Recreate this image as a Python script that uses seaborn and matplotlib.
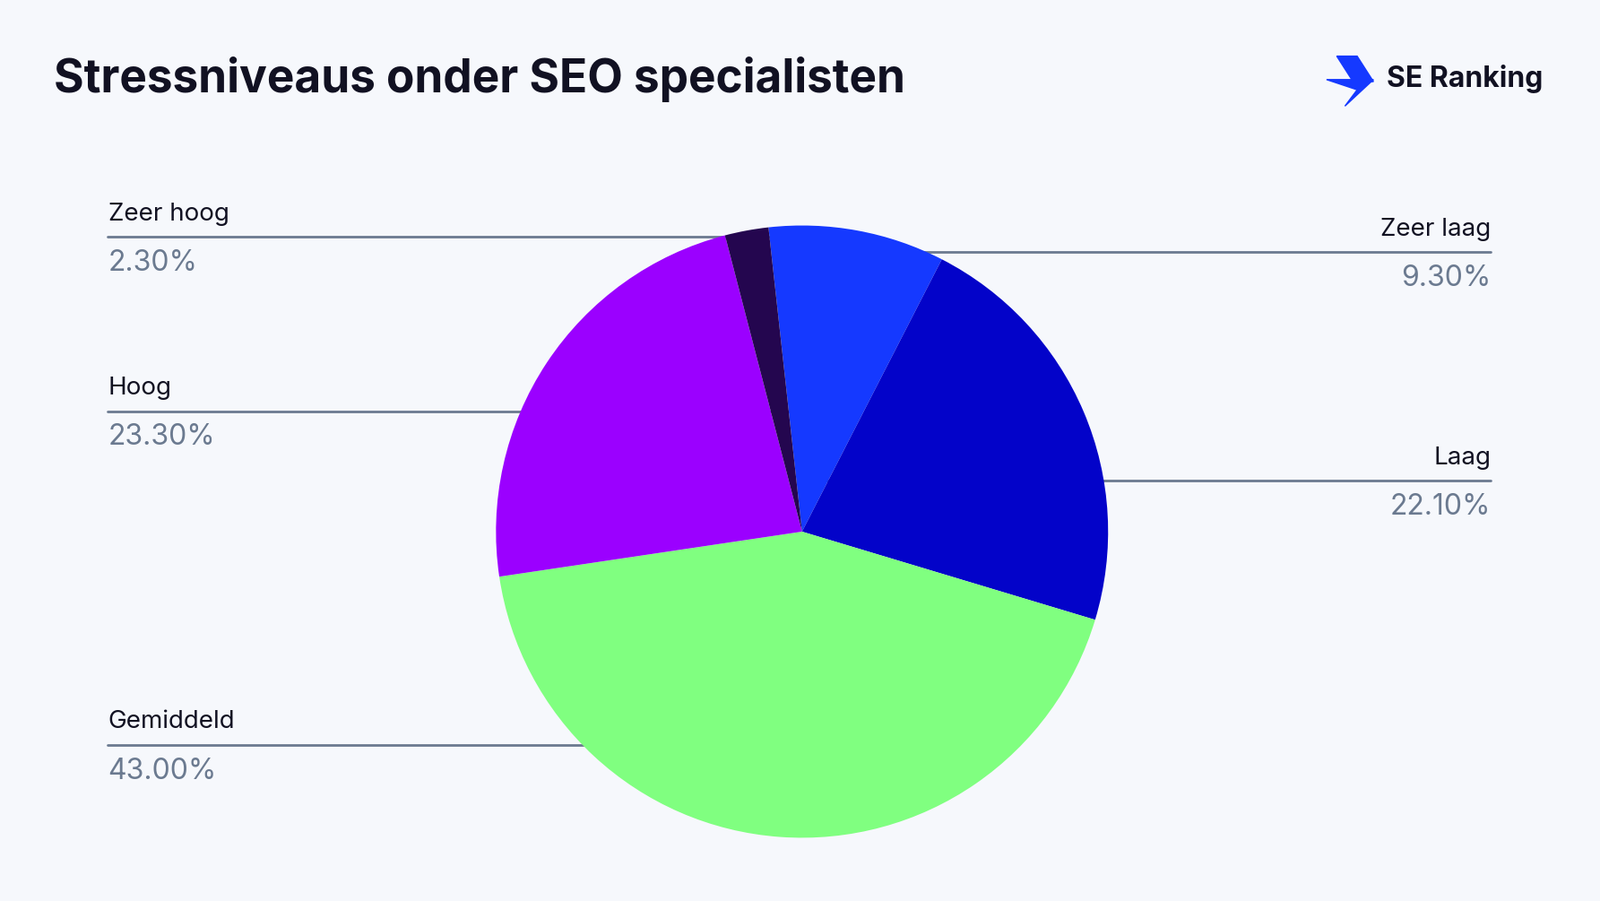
import matplotlib
matplotlib.use("Agg")
import matplotlib.pyplot as plt
import seaborn as sns

# data
categories = ["Zeer laag", "Laag", "Gemiddeld", "Hoog", "Zeer hoog"]
values = [9.3, 22.1, 43.0, 23.3, 2.3]
colors = ["#1539FF", "#0303C9", "#80FF80", "#9B00FF", "#24064F"]

sns.set_theme(style="white", font="Inter")
BG = "#F6F8FC"
W, H = 1568, 883  # reference layout units

fig = plt.figure(figsize=(17.85, 10.05), dpi=100, facecolor=BG)

bg = fig.add_axes([0, 0, 1, 1], zorder=0)
bg.set_xlim(0, W)
bg.set_ylim(H, 0)
bg.axis("off")
bg.set_facecolor(BG)

pie_ax = fig.add_axes([486 / W, 1 - 821 / H, 600 / W, 600 / H], zorder=1)
pie_ax.pie(values, colors=colors, startangle=96.3, counterclock=False,
           wedgeprops=dict(linewidth=0))
pie_ax.set_xlim(-1, 1)
pie_ax.set_ylim(-1, 1)
pie_ax.set_aspect("equal")
pie_ax.patch.set_alpha(0)

# label positions: (line y, side)
label_pos = {
    "Zeer laag": (247, "right"),
    "Laag": (471, "right"),
    "Gemiddeld": (730, "left"),
    "Hoog": (403, "left"),
    "Zeer hoog": (232, "left"),
}
line_col = "#6B7A90"
for cat, val in zip(categories, values):
    y, side = label_pos[cat]
    if side == "left":
        bg.plot([105, 786], [y, y], color=line_col, lw=2)
        x, ha = 106, "left"
    else:
        bg.plot([786, 1461], [y, y], color=line_col, lw=2)
        x, ha = 1461, "right"
    bg.text(x, y - 11, cat, ha=ha, va="bottom", fontsize=20, color="#111122")
    bg.text(x, y + 12, f"{val:.2f}%", ha=ha, va="top", fontsize=23, color=line_col)

bg.text(53, 78, "Stressniveaus onder SEO specialisten", ha="left", va="center",
        fontsize=37, fontweight="bold", color="#111122")

# logo
bg.fill([1310, 1330, 1346, 1326], [55, 55, 80, 80], color="#1539FF", zorder=3)
bg.fill([1300, 1346, 1318, 1330], [78, 78, 104, 88], color="#1539FF", zorder=3)
bg.text(1359, 77, "SE Ranking", ha="left", va="center", fontsize=23,
        fontweight="bold", color="#111122")

fig.savefig("out.png", dpi=100, facecolor=BG)
